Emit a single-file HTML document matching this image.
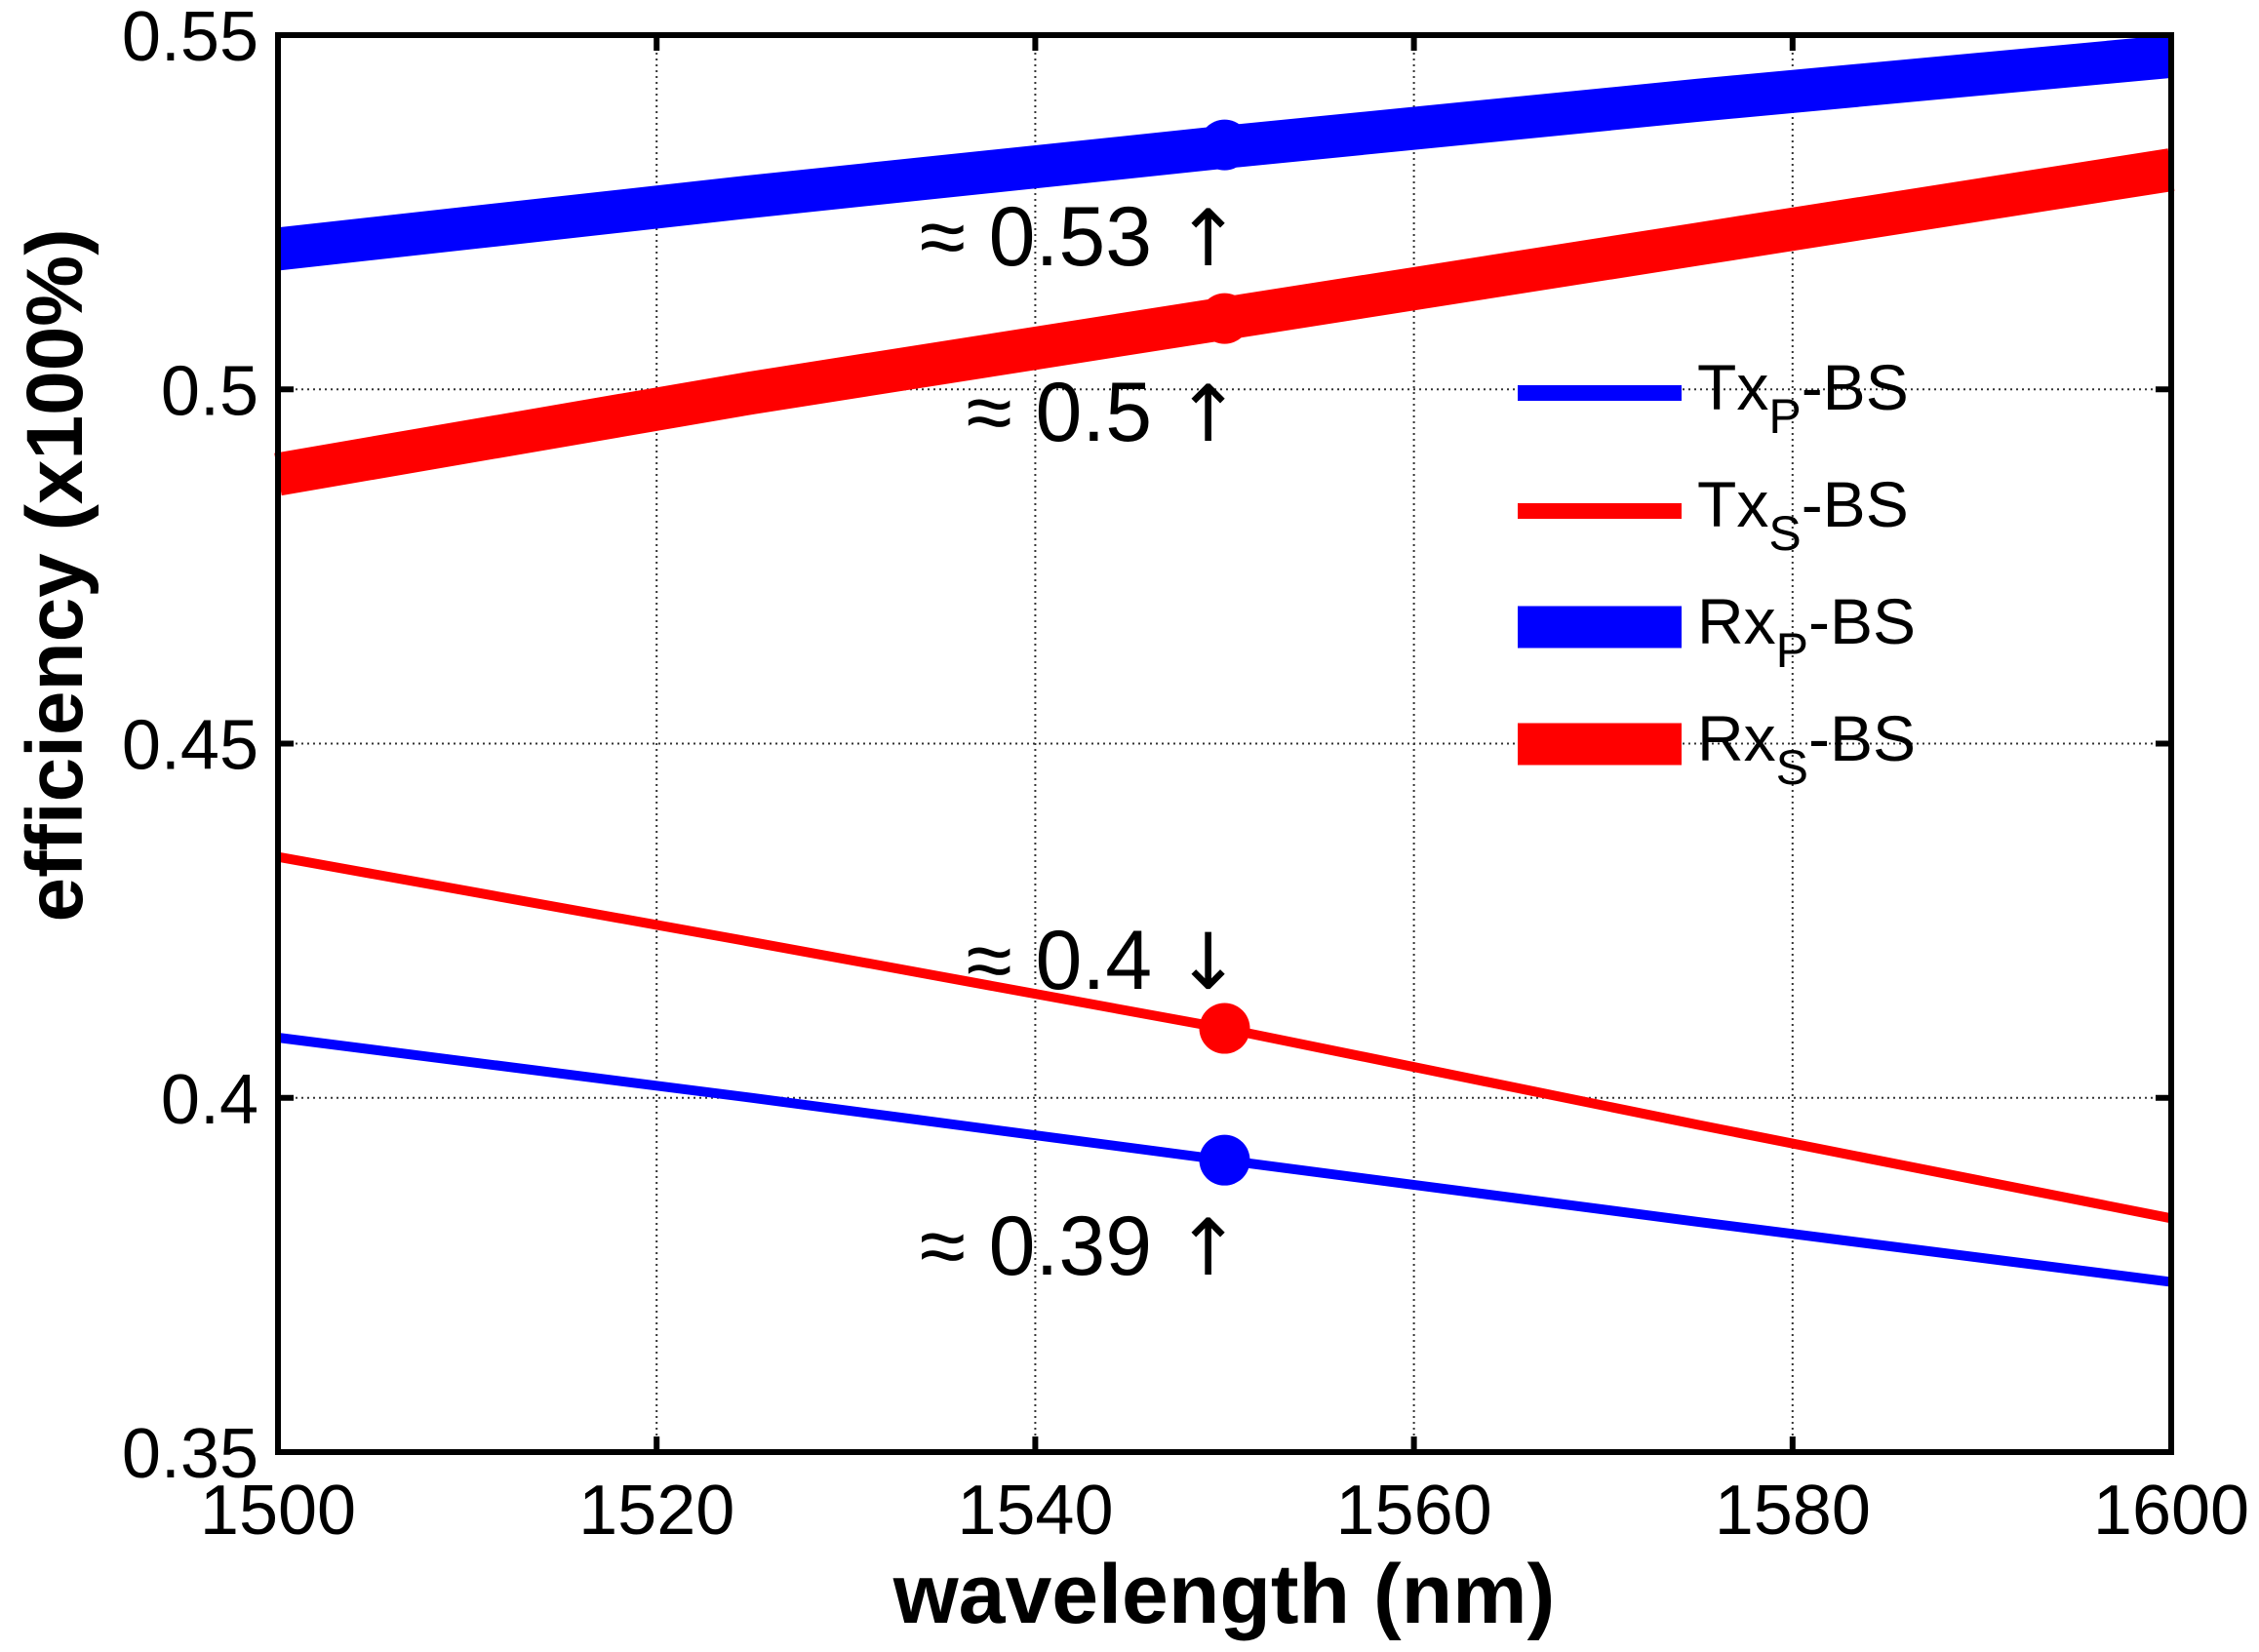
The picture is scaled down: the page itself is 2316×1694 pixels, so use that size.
<!DOCTYPE html>
<html><head><meta charset="utf-8"><style>
html,body{margin:0;padding:0;background:#fff;}
svg{display:block;font-family:"Liberation Sans",Arial,sans-serif;}
</style></head><body>
<svg id="chart" width="2316" height="1694" viewBox="0 0 2316 1694">
<g id="grid"></g>
<g id="series"></g>
<g id="marks"></g>
<rect x="285" y="36" width="1941" height="1453" fill="none" stroke="#000" stroke-width="6"/>
<g id="ticks"></g>
<text x="1255" y="1664" font-size="86" font-weight="bold" text-anchor="middle">wavelength (nm)</text>
<text transform="translate(84,590) rotate(-90)" font-size="82" font-weight="bold" text-anchor="middle">efficiency (x100%)</text>
<g id="legend">
<line x1="1556" y1="403" x2="1724" y2="403" stroke="#0000ff" stroke-width="16"/>
<text x="1740" y="420" font-size="66">Tx<tspan font-size="50" dy="24">P</tspan><tspan dy="-24">-BS</tspan></text>
<line x1="1556" y1="524" x2="1724" y2="524" stroke="#ff0000" stroke-width="16"/>
<text x="1740" y="540" font-size="66">Tx<tspan font-size="50" dy="24">S</tspan><tspan dy="-24">-BS</tspan></text>
<line x1="1556" y1="643" x2="1724" y2="643" stroke="#0000ff" stroke-width="43"/>
<text x="1740" y="660" font-size="66">Rx<tspan font-size="50" dy="24">P</tspan><tspan dy="-24">-BS</tspan></text>
<line x1="1556" y1="763" x2="1724" y2="763" stroke="#ff0000" stroke-width="43"/>
<text x="1740" y="780" font-size="66">Rx<tspan font-size="50" dy="24">S</tspan><tspan dy="-24">-BS</tspan></text>
</g>
<g font-size="86" text-anchor="end">
<text x="1272" y="272">≈ 0.53 <tspan font-family="DejaVu Sans" font-size="80">↑</tspan></text>
<text x="1272" y="452">≈ 0.5 <tspan font-family="DejaVu Sans" font-size="80">↑</tspan></text>
<text x="1272" y="1014">≈ 0.4 <tspan font-family="DejaVu Sans" font-size="80">↓</tspan></text>
<text x="1272" y="1307">≈ 0.39 <tspan font-family="DejaVu Sans" font-size="80">↑</tspan></text>
</g>
</svg>
<script>
const xTicks = [1500, 1520, 1540, 1560, 1580, 1600];
const yTicks = [0.35, 0.4, 0.45, 0.5, 0.55];
const yTickLabels = ["0.35", "0.4", "0.45", "0.5", "0.55"];
const wl = [1500, 1525, 1550, 1575, 1600];
const rxP = [0.5198, 0.5272, 0.5342, 0.5408, 0.5470];
const rxS = [0.4880, 0.4995, 0.5100, 0.5205, 0.5310];
const txS = [0.4340, 0.4220, 0.4098, 0.3962, 0.3830];
const txP = [0.4085, 0.4000, 0.3912, 0.3825, 0.3740];
const markerVals = [0.5345, 0.5100, 0.4098, 0.3912];
const markerX = 1550;

const L=285,R=2226,T=36,B=1489;
const xs=v=>L+(v-1500)/100*(R-L);
const ys=v=>B-(v-0.35)/0.2*(B-T);
const NS="http://www.w3.org/2000/svg";
function mk(tag,attrs,parent){const e=document.createElementNS(NS,tag);for(const k in attrs)e.setAttribute(k,attrs[k]);parent.appendChild(e);return e;}
const grid=document.getElementById('grid'),ticks=document.getElementById('ticks');
xTicks.forEach((t,i)=>{
  const x=xs(t);
  if(i>0&&i<xTicks.length-1){
    const g=mk('line',{x1:x,y1:T,x2:x,y2:B,stroke:'#333','stroke-width':2,'stroke-dasharray':'2 4'},grid);
    
    
    const a=mk('line',{x1:x,y1:B,x2:x,y2:B-16,stroke:'#000','stroke-width':6},ticks);
    
    
    const b=mk('line',{x1:x,y1:T,x2:x,y2:T+16,stroke:'#000','stroke-width':6},ticks);
    
    
  }
  const tx=mk('text',{x:x,y:1573,'font-size':72,'text-anchor':'middle'},ticks);
  tx.textContent=t;
  
  
});
yTicks.forEach((t,i)=>{
  const y=ys(t);
  if(i>0&&i<yTicks.length-1){
    const g=mk('line',{x1:L,y1:y,x2:R,y2:y,stroke:'#333','stroke-width':2,'stroke-dasharray':'2 4'},grid);
    
    
    const a=mk('line',{x1:L,y1:y,x2:L+16,y2:y,stroke:'#000','stroke-width':6},ticks);
    
    
    const b=mk('line',{x1:R,y1:y,x2:R-16,y2:y,stroke:'#000','stroke-width':6},ticks);
    
    
  }
  const tx=mk('text',{x:265,y:y+26,'font-size':72,'text-anchor':'end'},ticks);
  tx.textContent=yTickLabels[i];
  
  
});
const ser=document.getElementById('series');
function line(vals,color,w,name){
  const d=vals.map((v,i)=>(i?'L':'M')+xs(wl[i]).toFixed(1)+' '+ys(v).toFixed(1)).join(' ');
  const p=mk('path',{d:d,fill:'none',stroke:color,'stroke-width':w},ser);
  
  
}
line(rxP,'#0000ff',44,'series-rxp');
line(rxS,'#ff0000',44,'series-rxs');
line(txS,'#ff0000',10,'series-txs');
line(txP,'#0000ff',10,'series-txp');
const mg=document.getElementById('marks');
const mcol=['#0000ff','#ff0000','#ff0000','#0000ff'];
markerVals.forEach((v,i)=>{
  const c=mk('circle',{cx:xs(markerX),cy:ys(v),r:26,fill:mcol[i]},mg);
  
  
});
</script>
</body></html>
